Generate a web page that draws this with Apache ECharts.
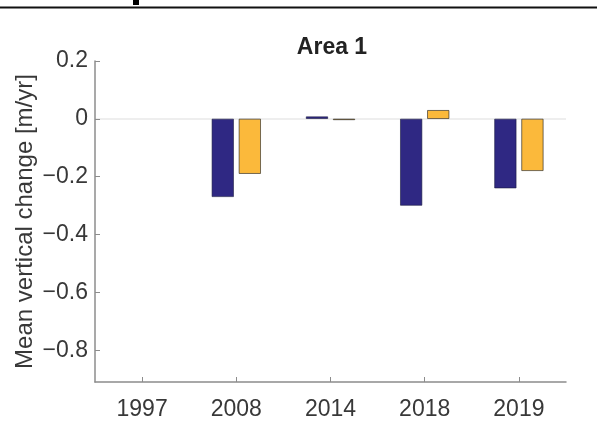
<!DOCTYPE html>
<html>
<head>
<meta charset="utf-8">
<script src="https://cdn.jsdelivr.net/npm/echarts@6/dist/echarts.min.js"></script>
<style>
  html, body { margin: 0; padding: 0; background: #fff; }
  #chart { width: 599px; height: 423px; }
</style>
</head>
<body>
<div id="chart"></div>
<script>
// Survey years on the category axis
var years = ['1997', '2008', '2014', '2018', '2019'];
// Mean vertical change per survey [m/yr]; 1997 is the reference year (no bar)
var seriesA = [null, -0.27, 0.008, -0.30, -0.24];
var seriesB = [null, -0.19, -0.004, 0.03, -0.18];
// Tick values shown on the value axis
var yTicks = [0.2, 0, -0.2, -0.4, -0.6, -0.8];

var FONT = '"Liberation Sans", Arial, Helvetica, sans-serif';
var TEXT = '#383838';
var AXIS = '#8c8c8c';

var chart = echarts.init(document.getElementById('chart'), null, { renderer: 'canvas' });

chart.setOption({
  backgroundColor: '#ffffff',
  animation: false,
  title: {
    text: 'Area 1',
    left: 327,
    textAlign: 'center',
    top: 31,
    textStyle: { fontFamily: FONT, fontSize: 23, fontWeight: 'bold', color: '#222' }
  },
  grid: { left: 95, right: 33, top: 61, bottom: 41, containLabel: false },
  xAxis: {
    type: 'category',
    data: years,
    boundaryGap: true,
    axisLine: { onZero: false, lineStyle: { color: AXIS, width: 1.5 } },
    axisTick: { show: true, inside: true, length: 5, alignWithLabel: true, lineStyle: { color: AXIS, width: 1 } },
    axisLabel: { fontFamily: FONT, fontSize: 23, color: TEXT, margin: 16 },
    splitLine: { show: false }
  },
  yAxis: {
    type: 'value',
    min: -0.91,
    max: 0.2,
    name: 'Mean vertical change [m/yr]',
    nameLocation: 'middle',
    nameGap: 58,
    nameMoveOverlap: false,
    nameTextStyle: { fontFamily: FONT, fontSize: 24, color: TEXT },
    axisLine: { show: true, lineStyle: { color: AXIS, width: 1.5 } },
    axisTick: { show: true, inside: true, length: 5, customValues: yTicks, lineStyle: { color: AXIS, width: 1 } },
    axisLabel: {
      fontFamily: FONT, fontSize: 23, color: TEXT, margin: 7,
      customValues: yTicks,
      formatter: function (v) {
        var r = Math.round(v * 10) / 10;
        if (r === 0) return '0';
        return (r < 0 ? '\u2212' : '') + Math.abs(r).toFixed(1);
      }
    },
    splitLine: { show: false }
  },
  series: [
    {
      type: 'bar',
      data: seriesA,
      barWidth: 22,
      barGap: '23%',
      itemStyle: { color: '#2f2883', borderColor: '#1a1a40', borderWidth: 0.6 },
      markLine: {
        silent: true,
        symbol: 'none',
        label: { show: false },
        lineStyle: { color: '#e8e8e8', width: 1.5, type: 'solid' },
        data: [{ yAxis: 0 }],
        z: 0
      }
    },
    {
      type: 'bar',
      data: seriesB,
      barWidth: 22,
      barGap: '23%',
      itemStyle: { color: '#fbb93b', borderColor: '#1a1a1a', borderWidth: 0.6 }
    }
  ],
  graphic: [
    { type: 'line', shape: { x1: 0, y1: 7.5, x2: 597, y2: 7.5 }, style: { stroke: '#111', lineWidth: 2 } },
    { type: 'rect', shape: { x: 133, y: 0, width: 6, height: 5 }, style: { fill: '#000' } }
  ]
});
</script>
</body>
</html>
